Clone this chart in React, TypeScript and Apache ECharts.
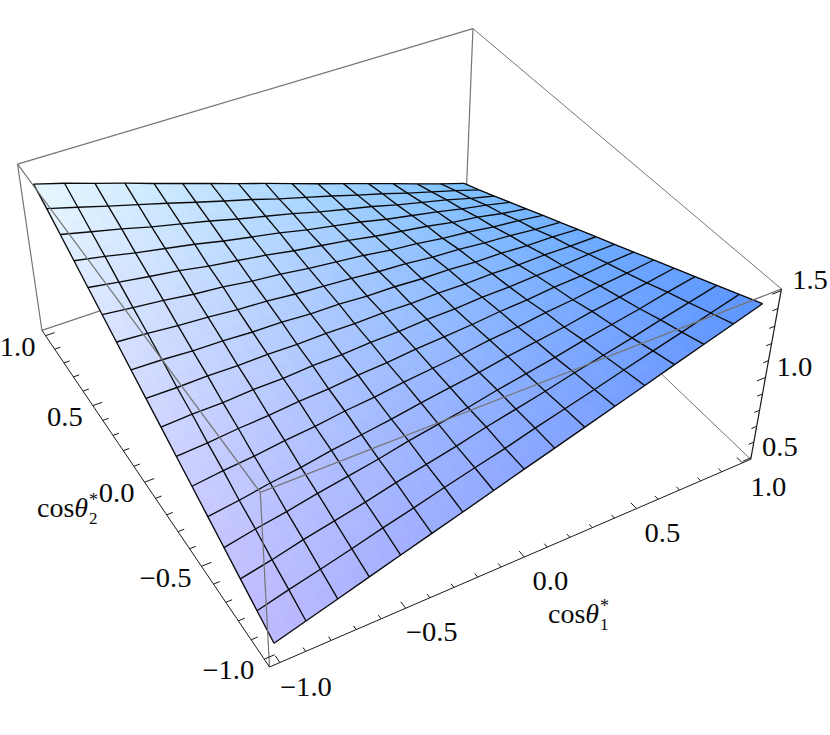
import React, { useEffect, useRef } from "react";
import * as echarts from "echarts";

const meshX = [-1, -0.875, -0.75, -0.625, -0.5, -0.375, -0.25, -0.125, 0, 0.125, 0.25, 0.375, 0.5, 0.625, 0.75, 0.875, 1];
const meshY = [-1, -0.875, -0.75, -0.625, -0.5, -0.375, -0.25, -0.125, 0, 0.125, 0.25, 0.375, 0.5, 0.625, 0.75, 0.875, 1];
// rows run from cos(theta2) = -1 to +1, columns from cos(theta1) = -1 to +1
const zRows = [
  [0.563, 0.616, 0.669, 0.723, 0.776, 0.829, 0.881, 0.935, 0.989, 1.041, 1.094, 1.147, 1.2, 1.255, 1.307, 1.36, 1.413],
  [0.616, 0.664, 0.709, 0.755, 0.804, 0.849, 0.897, 0.942, 0.986, 1.036, 1.081, 1.127, 1.175, 1.221, 1.266, 1.314, 1.36],
  [0.669, 0.707, 0.751, 0.789, 0.827, 0.871, 0.908, 0.946, 0.99, 1.028, 1.066, 1.109, 1.147, 1.185, 1.228, 1.267, 1.307],
  [0.722, 0.758, 0.788, 0.824, 0.855, 0.886, 0.924, 0.955, 0.986, 1.023, 1.054, 1.086, 1.123, 1.154, 1.185, 1.222, 1.254],
  [0.776, 0.8, 0.831, 0.853, 0.884, 0.908, 0.933, 0.963, 0.988, 1.013, 1.043, 1.068, 1.092, 1.123, 1.147, 1.172, 1.2],
  [0.829, 0.851, 0.867, 0.89, 0.906, 0.93, 0.946, 0.97, 0.988, 1.006, 1.03, 1.046, 1.07, 1.086, 1.109, 1.127, 1.147],
  [0.882, 0.893, 0.91, 0.92, 0.937, 0.946, 0.963, 0.973, 0.99, 1.001, 1.013, 1.03, 1.039, 1.056, 1.066, 1.083, 1.094],
  [0.935, 0.944, 0.946, 0.957, 0.959, 0.97, 0.973, 0.983, 0.986, 0.997, 0.999, 1.01, 1.013, 1.023, 1.026, 1.037, 1.041],
  [0.988, 0.986, 0.99, 0.986, 0.99, 0.986, 0.99, 0.986, 0.99, 0.986, 0.99, 0.986, 0.99, 0.986, 0.99, 0.986, 0.988],
  [1.041, 1.037, 1.026, 1.023, 1.013, 1.01, 0.999, 0.997, 0.986, 0.983, 0.973, 0.97, 0.959, 0.957, 0.946, 0.944, 0.935],
  [1.094, 1.083, 1.066, 1.056, 1.039, 1.03, 1.013, 1.001, 0.99, 0.973, 0.963, 0.946, 0.937, 0.92, 0.91, 0.893, 0.882],
  [1.147, 1.127, 1.109, 1.086, 1.07, 1.046, 1.03, 1.006, 0.988, 0.97, 0.946, 0.93, 0.906, 0.89, 0.867, 0.851, 0.829],
  [1.2, 1.172, 1.147, 1.123, 1.092, 1.068, 1.043, 1.013, 0.988, 0.963, 0.933, 0.908, 0.884, 0.853, 0.831, 0.8, 0.776],
  [1.254, 1.222, 1.185, 1.154, 1.123, 1.086, 1.054, 1.023, 0.986, 0.955, 0.924, 0.886, 0.855, 0.824, 0.788, 0.758, 0.722],
  [1.307, 1.267, 1.228, 1.185, 1.147, 1.109, 1.066, 1.028, 0.99, 0.946, 0.908, 0.871, 0.827, 0.789, 0.751, 0.707, 0.669],
  [1.36, 1.314, 1.266, 1.221, 1.175, 1.127, 1.081, 1.036, 0.986, 0.942, 0.897, 0.849, 0.804, 0.755, 0.709, 0.664, 0.616],
  [1.408, 1.36, 1.307, 1.255, 1.2, 1.147, 1.094, 1.041, 0.989, 0.935, 0.881, 0.829, 0.776, 0.723, 0.669, 0.616, 0.566],
];
const tickValues = [-1, -0.9, -0.8, -0.7, -0.6, -0.5, -0.4, -0.3, -0.2, -0.1, 0, 0.1, 0.2, 0.3, 0.4, 0.5, 0.6, 0.7, 0.8, 0.9, 1];
const zTickValues = [0.5, 0.6, 0.7, 0.8, 0.9, 1, 1.1, 1.2, 1.3, 1.4, 1.5];
const axisLabels = [-1, -0.5, 0, 0.5, 1];
const zAxisLabels = [0.5, 1, 1.5];

const XL = 1.04;
const Z0 = 0.49;
const Z1 = 1.51;

// camera calibration: box coordinates seen at picture positions
const calibration: number[][] = [
  [-XL, -XL, Z0, 270, 668],
  [XL, -XL, Z0, 751, 460],
  [-XL, XL, Z0, 41, 331],
  [-XL, -XL, Z1, 259, 491],
  [XL, -XL, Z1, 782, 290],
  [-XL, XL, Z1, 18, 165],
  [XL, XL, Z1, 473, 28],
  [-1, -XL, Z0, 279, 664],
  [-0.5, -XL, Z0, 407, 608],
  [0, -XL, Z0, 525, 557],
  [0.5, -XL, Z0, 635, 507],
  [1, -XL, Z0, 742, 463],
  [-XL, -0.5, Z0, 202, 565],
  [-XL, 0, Z0, 145, 482],
  [-XL, 0.5, Z0, 93, 405],
];

function solveCamera(): number[] {
  const n = 11;
  const A = Array.from({ length: n }, () => new Array(n + 1).fill(0));
  const add = (r: number[], b: number) => {
    for (let i = 0; i < n; i++) {
      for (let j = 0; j < n; j++) A[i][j] += r[i] * r[j];
      A[i][n] += r[i] * b;
    }
  };
  calibration.forEach(([X, Y, Zr, u0, v0]) => {
    const Z = Zr - 1;
    const u = u0 / 800;
    const v = v0 / 800;
    add([X, Y, Z, 1, 0, 0, 0, 0, -u * X, -u * Y, -u * Z], u);
    add([0, 0, 0, 0, X, Y, Z, 1, -v * X, -v * Y, -v * Z], v);
  });
  for (let c = 0; c < n; c++) {
    let p = c;
    for (let r = c + 1; r < n; r++) if (Math.abs(A[r][c]) > Math.abs(A[p][c])) p = r;
    [A[c], A[p]] = [A[p], A[c]];
    for (let r = 0; r < n; r++) {
      if (r === c) continue;
      const f = A[r][c] / A[c][c];
      for (let k = c; k <= n; k++) A[r][k] -= f * A[c][k];
    }
  }
  return A.map((row, i) => row[n] / row[i]);
}
const P = solveCamera();
function project(X: number, Y: number, Zr: number): number[] {
  const Z = Zr - 1;
  const w = P[8] * X + P[9] * Y + P[10] * Z + 1;
  return [(800 * (P[0] * X + P[1] * Y + P[2] * Z + P[3])) / w, (800 * (P[4] * X + P[5] * Y + P[6] * Z + P[7])) / w];
}

const cornerColors = { c00: [189, 185, 255], c10: [91, 149, 255], c01: [232, 248, 255], c11: [125, 193, 255] };
function surfaceColor(s: number, t: number): string {
  const { c00, c10, c01, c11 } = cornerColors;
  const rgb = [0, 1, 2].map((k) =>
    Math.round((1 - s) * (1 - t) * c00[k] + s * (1 - t) * c10[k] + (1 - s) * t * c01[k] + s * t * c11[k])
  );
  return `rgb(${rgb[0]},${rgb[1]},${rgb[2]})`;
}

const SERIF = '"Liberation Serif"';
const LABEL_FONT = `27px ${SERIF}`;
const GREY = "#757575";
const GREY_WIDTH = 1.2;
const AXIS = "#1a1a1a";

export default function App() {
  const ref = useRef<HTMLDivElement>(null);
  useEffect(() => {
    const chart = echarts.init(ref.current!, undefined, { renderer: "svg" });
    const fmt = (v: number) => (v < 0 ? "\u2212" : "") + Math.abs(v).toFixed(1);

    const seg = (api: any, a: number[], b: number[], stroke: string, lineWidth = 1) => {
      const pa = api.coord(project(a[0], a[1], a[2]));
      const pb = api.coord(project(b[0], b[1], b[2]));
      return { type: "line", shape: { x1: pa[0], y1: pa[1], x2: pb[0], y2: pb[1] }, style: { stroke, lineWidth } };
    };
    const label = (text: string, at: number[], dx: number, dy: number, align: string) => {
      const p = project(at[0], at[1], at[2]);
      return {
        type: "text",
        x: p[0] + dx,
        y: p[1] + dy,
        scaleX: 1.06,
        z: 10,
        style: { text, fill: "#0a0a0a", font: LABEL_FONT, align, verticalAlign: "middle" },
      };
    };

    const cells: number[][] = [];
    for (let j = 0; j < meshY.length - 1; j++) for (let i = 0; i < meshX.length - 1; i++) cells.push([i, j]);
    const meshLines: number[][] = [];
    meshY.forEach((_, j) => meshLines.push([0, j]));
    meshX.forEach((_, i) => meshLines.push([1, i]));

    const node = (api: any, i: number, j: number) => api.coord(project(meshX[i], meshY[j], zRows[j][i]));

    chart.setOption({
      animation: false,
      backgroundColor: "#fff",
      grid: { left: 0, right: 0, top: 0, bottom: 0 },
      xAxis: { type: "value", min: 0, max: 830, show: false },
      yAxis: { type: "value", min: 0, max: 735, inverse: true, show: false },
      series: [
        {
          type: "custom",
          z: 1,
          silent: true,
          data: [[0, 0]],
          renderItem: (_: any, api: any) => ({
            type: "group",
            children: [
              seg(api, [-XL, XL, Z1], [XL, XL, Z1], GREY, GREY_WIDTH),
              seg(api, [XL, XL, Z1], [XL, -XL, Z1], GREY),
              seg(api, [XL, XL, Z1], [XL, XL, Z0], GREY, GREY_WIDTH),
              seg(api, [-XL, XL, Z0], [XL, XL, Z0], GREY, GREY_WIDTH),
              seg(api, [XL, -XL, Z0], [XL, XL, Z0], GREY),
            ],
          }),
        },
        {
          type: "custom",
          z: 2,
          silent: true,
          data: cells,
          renderItem: (_: any, api: any) => {
            const i = api.value(0);
            const j = api.value(1);
            const a = node(api, i, j);
            const b = node(api, i + 1, j);
            const c = node(api, i + 1, j + 1);
            const d = node(api, i, j + 1);
            const n = meshX.length - 1;
            const children: any[] = [];
            const lerp = (p: number[], q: number[], t: number) => [p[0] + (q[0] - p[0]) * t, p[1] + (q[1] - p[1]) * t];
            const at = (s: number, t: number) => lerp(lerp(a, b, s), lerp(d, c, s), t);
            for (let u = 0; u < 2; u++)
              for (let v = 0; v < 2; v++) {
                const s0 = u / 2;
                const s1 = (u + 1) / 2;
                const t0 = v / 2;
                const t1 = (v + 1) / 2;
                const col = surfaceColor((i + (s0 + s1) / 2) / n, (j + (t0 + t1) / 2) / n);
                children.push({
                  type: "polygon",
                  shape: { points: [at(s0, t0), at(s1, t0), at(s1, t1), at(s0, t1)] },
                  style: { fill: col, stroke: col, lineWidth: 0.7 },
                });
              }
            return { type: "group", children };
          },
        },
        {
          type: "custom",
          z: 3,
          silent: true,
          data: meshLines,
          renderItem: (_: any, api: any) => {
            const kind = api.value(0);
            const k = api.value(1);
            const points =
              kind === 0 ? meshX.map((_x, i) => node(api, i, k)) : meshY.map((_y, j) => node(api, k, j));
            return { type: "polyline", shape: { points }, style: { stroke: "#0a0a0a", lineWidth: 1.35, fill: "none" } };
          },
        },
        {
          type: "custom",
          z: 4,
          silent: true,
          data: [[0, 0]],
          renderItem: (_: any, api: any) => {
            const children: any[] = [
              seg(api, [-XL, XL, Z1], [-XL, -XL, Z1], GREY, GREY_WIDTH),
              seg(api, [-XL, -XL, Z1], [XL, -XL, Z1], GREY, GREY_WIDTH),
              seg(api, [-XL, -XL, Z1], [-XL, -XL, Z0], GREY, GREY_WIDTH),
              seg(api, [-XL, XL, Z1], [-XL, XL, Z0], GREY, GREY_WIDTH),
              seg(api, [-XL, -XL, Z0], [XL, -XL, Z0], AXIS),
              seg(api, [-XL, -XL, Z0], [-XL, XL, Z0], AXIS),
              seg(api, [XL, -XL, Z0], [XL, -XL, Z1], AXIS, 1.2),
            ];
            const isMajor = (v: number) => Math.abs(v * 2 - Math.round(v * 2)) < 1e-6;
            tickValues.forEach((v) => {
              const lenY = isMajor(v) ? 0.035 : 0.02;
              const lenX = isMajor(v) ? 0.04 : 0.025;
              children.push(seg(api, [v, -XL, Z0], [v, -XL + lenY, Z0], AXIS));
              children.push(seg(api, [-XL, v, Z0], [-XL + lenX, v, Z0], AXIS));
            });
            zTickValues.forEach((v) => {
              children.push(seg(api, [XL, -XL, v], [XL - (isMajor(v) ? 0.04 : 0.025), -XL, v], AXIS));
            });
            return { type: "group", children };
          },
        },
      ],
      graphic: [
        ...axisLabels.flatMap((v) => [
          label(fmt(v), [v, -XL, Z0], 26, 24, "center"),
          label(fmt(v), [-XL, v, Z0], -10, 11, "right"),
        ]),
        ...zAxisLabels.map((v) => label(fmt(v), [XL, -XL, v], 11, -11, "left")),
        ...[
          { x: 548, y: 613, sub: "1" },
          { x: 37, y: 507, sub: "2" },
        ].flatMap((t) => [
          {
            type: "text",
            x: t.x,
            y: t.y,
            z: 10,
            style: {
              text: "{a|cos}{b|\u03b8}",
              rich: {
                a: { fontFamily: SERIF, fontSize: 28, fill: "#0a0a0a" },
                b: { fontFamily: SERIF, fontSize: 28, fontStyle: "italic", fill: "#0a0a0a" },
              },
              verticalAlign: "middle",
            },
          },
          {
            type: "text",
            x: t.x + 52,
            y: t.y - 7,
            z: 10,
            style: { text: "*", font: `18px ${SERIF}`, fill: "#0a0a0a", verticalAlign: "middle" },
          },
          {
            type: "text",
            x: t.x + 52,
            y: t.y + 11,
            z: 10,
            style: { text: t.sub, font: `17px ${SERIF}`, fill: "#0a0a0a", verticalAlign: "middle" },
          },
        ]),
      ],
    });
    return () => chart.dispose();
  }, []);
  return (
    <div
      ref={ref}
      style={{ position: "absolute", left: 0, top: 0, width: 830, height: 735, background: "#fff" }}
    />
  );
}
